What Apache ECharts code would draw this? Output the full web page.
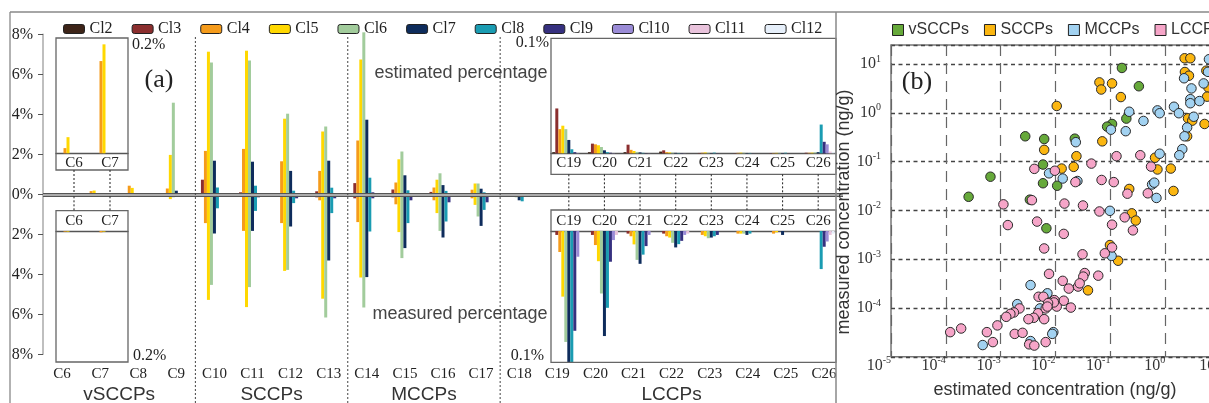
<!DOCTYPE html>
<html><head><meta charset="utf-8">
<script src="https://cdn.jsdelivr.net/npm/echarts/dist/echarts.min.js"></script>
<style>html,body{margin:0;padding:0;background:#fff}#c{width:1209px;height:403px}</style>
</head><body><div id="c"></div>
<script>
// ---------- DATA ----------
const categories = ['C6','C7','C8','C9','C10','C11','C12','C13','C14','C15','C16','C17','C18','C19','C20','C21','C22','C23','C24','C25','C26'];
const vsccpCats = ['C6','C7'];
const lccpCats = ['C19','C20','C21','C22','C23','C24','C25','C26'];
const groupNames = ['vSCCPs','SCCPs','MCCPs','LCCPs'];
const groupSpans = [['C6','C9'],['C10','C13'],['C14','C17'],['C18','C26']];
const clNames = ['Cl2','Cl3','Cl4','Cl5','Cl6','Cl7','Cl8','Cl9','Cl10','Cl11','Cl12'];

// estimated percentage (%)
const est_Cl2  = [0,0,0,0,0.02,0.02,0.02,0.03,0.05,0.03,0.02,0.01,0,0.001,0.001,0.001,0.0015,0,0,0,0];
const est_Cl3  = [0,0,0.01,0.02,0.73,0.1,0.06,0.15,0.56,0.24,0.12,0.05,0.01,0.039,0.0084,0.0075,0.0026,0.0003,0.0002,0.0002,0.0005];
const est_Cl4  = [0.009,0.16,0.43,0.29,2.17,2.27,1.65,1.17,2.69,0.59,0.34,0.23,0.03,0.021,0.0078,0.003,0.001,0.0005,0.0004,0.0003,0.0005];
const est_Cl5  = [0.028,0.189,0.32,1.97,7.13,7.18,3.78,3.14,6.74,1.75,0.73,0.54,0.04,0.024,0.007,0.002,0.0008,0.0008,0.0006,0.0004,0.0006];
const est_Cl6  = [0,0,0.02,4.58,6.59,6.69,4.03,3.39,8.1,2.14,1.05,0.54,0.04,0.021,0.0055,0.0012,0.0006,0.0005,0.0005,0.0004,0.0008];
const est_Cl7  = [0,0,0,0.18,1.68,1.63,1.17,1.68,3.73,0.95,0.46,0.28,0.02,0.0116,0.0026,0.0008,0.0004,0.0003,0.0003,0.0003,0.001];
const est_Cl8  = [0,0,0,0.05,0.34,0.43,0.18,0.33,0.83,0.2,0.17,0.1,0.01,0.0035,0.001,0.0004,0.0003,0.0006,0.0003,0.0005,0.025];
const est_Cl9  = [0,0,0,0.01,0.05,0.05,0.05,0.05,0.1,0.05,0.05,0.03,0.005,0.001,0.0005,0.0002,0.0002,0.0002,0.0001,0.0001,0.010];
const est_Cl10 = [0,0,0,0,0.01,0.01,0.01,0.01,0.02,0.01,0.01,0.01,0,0.0003,0.0002,0.0001,0.0001,0,0,0,0.0078];
const est_Cl11 = [0,0,0,0,0,0,0,0,0,0,0,0,0,0,0,0,0,0,0,0,0.0015];
const est_Cl12 = [0,0,0,0,0,0,0,0,0,0,0,0,0,0,0,0,0,0,0,0,0.001];

// measured percentage (%), magnitudes (drawn downward)
const meas_Cl2  = [0,0,0,0,0.05,0.05,0.05,0.05,0.05,0.03,0.02,0.01,0,0,0,0,0,0,0,0,0];
const meas_Cl3  = [0,0,0.02,0.03,0.1,0.1,0.1,0.15,0.2,0.15,0.1,0.05,0.01,0.003,0.003,0.002,0.002,0,0,0,0];
const meas_Cl4  = [0.001,0.002,0.14,0.1,1.44,1.83,1.44,0.3,1.39,0.5,0.3,0.2,0.05,0.016,0.0107,0.004,0.004,0.003,0.002,0.002,0];
const meas_Cl5  = [0.001,0.001,0.1,0.24,5.28,5.64,3.83,5.22,4.16,1.89,0.94,0.53,0.1,0.05,0.023,0.0102,0.005,0.004,0.002,0.001,0];
const meas_Cl6  = [0,0,0.02,0.15,4.53,4.64,3.78,6.16,5.66,3.19,1.83,1.11,0.15,0.0845,0.0476,0.022,0.009,0.0055,0.002,0,0];
const meas_Cl7  = [0,0,0,0.05,1.96,1.83,1.61,3.31,4.14,2.69,2.16,1.58,0.3,0.11,0.08,0.025,0.0125,0.005,0.003,0.003,0];
const meas_Cl8  = [0,0,0,0.02,0.7,0.83,0.44,0.94,1.86,1.44,1.36,0.78,0.35,0.11,0.0585,0.018,0.01,0.004,0.002,0,0.029];
const meas_Cl9  = [0,0,0,0,0.1,0.15,0.2,0.2,0.2,0.3,0.4,0.4,0.05,0.076,0.0234,0.0115,0.0075,0.003,0,0,0.012];
const meas_Cl10 = [0,0,0,0,0,0,0,0.05,0.05,0.05,0.1,0.1,0,0.0196,0.0069,0.003,0.003,0,0,0,0.008];
const meas_Cl11 = [0,0,0,0,0,0,0,0,0,0,0,0,0,0,0.003,0,0.002,0,0,0,0.003];
const meas_Cl12 = [0,0,0,0,0,0,0,0,0,0,0,0,0,0,0,0,0,0,0,0,0.002];

// scatter (b): [estimated, measured] ng/g
const vSCCPs = [[2.8e-3,0.33],[6.2e-3,0.29],[5.9e-3,0.087],[5.9e-3,0.036],[6.5e-4,0.049],[2.6e-4,0.019],[3.4e-3,0.0166],[6.8e-3,4.3e-3],[0.0224,0.295],[0.0107,0.032],[0.162,8.3],[0.33,3.5],[0.195,0.76],[0.107,0.59],[0.087,0.52]];
const SCCPs = [[6.2e-3,0.174],[0.0105,1.38],[0.063,4.2],[0.068,3.0],[0.107,4.0],[0.155,2.1],[0.071,0.26],[0.024,0.129],[0.0129,0.072],[0.0214,0.078],[0.65,0.12],[0.72,0.069],[1.26,0.072],[0.22,0.0275],[1.41,0.025],[2.25,13.1],[2.86,13.1],[2.28,6.85],[2.7,5.75],[5.6,7.3],[6.1,3.3],[5.8,2.14],[2.6,0.77],[3.1,0.69],[5.2,0.59],[2.5,0.33],[0.098,1.95e-3],[0.138,9.3e-4],[0.245,8.7e-3],[0.29,6.2e-3],[0.039,2.3e-4]];
const MCCPs = [[7.6e-3,0.0575],[0.0135,0.045],[0.22,1.05],[0.102,0.45],[0.19,0.42],[0.40,0.68],[0.72,1.12],[0.79,0.98],[0.0234,0.25],[0.79,0.145],[0.025,0.04],[0.575,0.034],[0.63,0.037],[0.69,0.018],[6.25,12.5],[2.2,5.1],[6.0,6.9],[3.0,3.16],[5.0,4.0],[2.86,1.9],[2.86,1.57],[4.2,1.74],[1.44,1.33],[1.77,0.98],[3.3,0.83],[2.5,0.50],[2.24,0.33],[2.04,0.18],[1.8,0.135],[0.098,9.8e-3],[0.105,1.17e-3],[3.5e-3,2.95e-4],[7.1e-3,2.0e-4],[2.0e-3,1.2e-4],[5.2e-3,9.8e-5],[4.7e-4,1.74e-5],[3.5e-3,2.1e-5],[9.1e-3,3.2e-5],[8.7e-3,2.95e-5]];
const LCCPs = [[4.1e-3,0.071],[9.7e-3,0.065],[0.045,0.091],[0.129,0.129],[0.35,0.135],[0.55,0.079],[0.023,0.038],[0.069,0.042],[0.115,0.038],[0.204,0.022],[0.48,0.0224],[3.7e-3,0.0162],[1.12e-3,0.0133],[1.35e-3,5.0e-3],[4.6e-3,5.9e-3],[6.2e-3,1.66e-3],[7.6e-3,5.0e-4],[4.9e-3,1.7e-4],[6.0e-3,1.7e-4],[2.2e-3,9.8e-5],[1.74e-3,8.1e-5],[1.5e-3,7.6e-5],[1.26e-3,6.6e-5],[4.8e-3,7.8e-5],[4.0e-3,6.3e-5],[3.2e-3,5.9e-5],[6.2e-3,5.9e-5],[6.6e-3,9.8e-5],[8.7e-4,4.4e-5],[5.6e-4,3.2e-5],[1.9e-4,3.8e-5],[1.2e-4,3.2e-5],[1.8e-3,2.95e-5],[2.5e-3,3.1e-5],[7.2e-4,2.0e-5],[3.3e-3,1.8e-5],[4.1e-3,1.7e-5],[6.6e-3,2.0e-5],[0.0145,0.0138],[0.0316,0.0126],[0.063,9.5e-3],[0.182,7.2e-3],[0.107,5.1e-3],[0.257,3.9e-3],[0.0141,3.3e-3],[0.031,1.26e-3],[0.079,1.32e-3],[0.107,1.74e-3],[0.034,5.2e-4],[0.032,4.4e-4],[0.060,4.6e-4],[0.0135,3.6e-4],[0.0174,2.5e-4],[0.0257,2.75e-4],[0.0275,3.2e-4],[0.0141,1.41e-4],[0.019,1.02e-4],[9.5e-3,1.45e-4],[0.0105,1.07e-4],[9.3e-3,1.3e-4],[7.3e-3,1.26e-4],[7.1e-3,1.07e-4]];

// ---------- STYLE / LAYOUT ----------
const clColors = ['#3d2418','#8b2e2e','#f59b1b','#ffd800','#a2cc9c','#0e2c5c','#1a9cb2','#36307f','#9a8bd6','#e9c3dc','#e6effa'];
const grpColors = ['#66a93a','#fbb610','#a2d2f1','#f6a5c8'];
const SERIF = 'Liberation Serif', SANS = 'Liberation Sans';
const G_MAIN = {left:43, top:34.3, width:800, height:320};
const G_TL = {left:56, top:38, width:72, height:115.3}, TL_STRIP = 16.7;
const G_BL = {left:56, top:231, width:72, height:131}, BL_STRIP = 20.3;
const G_TR = {left:551, top:38.3, width:285, height:115}, TR_STRIP = 21;
const G_BR = {left:551, top:231, width:285, height:131.3}, BR_STRIP = 21;
const G_SC = {left:891, top:45, width:384, height:311.8};

const estRows = [est_Cl2,est_Cl3,est_Cl4,est_Cl5,est_Cl6,est_Cl7,est_Cl8,est_Cl9,est_Cl10,est_Cl11,est_Cl12];
const measRows = [meas_Cl2,meas_Cl3,meas_Cl4,meas_Cl5,meas_Cl6,meas_Cl7,meas_Cl8,meas_Cl9,meas_Cl10,meas_Cl11,meas_Cl12];
const iVS = vsccpCats.map(c => categories.indexOf(c));
const iLC = lccpCats.map(c => categories.indexOf(c));

const chart = echarts.init(document.getElementById('c'), null, {renderer:'canvas'});

const series = [];
clNames.forEach((n, i) => {
  const base = {name:n, type:'bar', barWidth:3, barGap:'0%', itemStyle:{color:clColors[i]}, emphasis:{disabled:true}};
  const m1 = Object.assign({}, base, {xAxisIndex:0, yAxisIndex:0, stack:'s'+i, clip:false, data:estRows[i]});
  if (i === 0) {
    m1.markLine = {silent:true, symbol:'none', label:{show:false}, animation:false,
      data:[{yAxis:0, lineStyle:{color:'#555', width:4, type:'solid'}}, {yAxis:0, lineStyle:{color:'#c8c8c8', width:1.6, type:'solid'}}]};
  }
  series.push(m1);
  series.push(Object.assign({}, base, {xAxisIndex:0, yAxisIndex:0, stack:'s'+i, clip:false, data:measRows[i].map(v => -v)}));
  series.push(Object.assign({}, base, {xAxisIndex:1, yAxisIndex:1, data:iVS.map(k => estRows[i][k])}));
  series.push(Object.assign({}, base, {xAxisIndex:2, yAxisIndex:2, data:iVS.map(k => measRows[i][k])}));
  series.push(Object.assign({}, base, {xAxisIndex:3, yAxisIndex:3, data:iLC.map(k => estRows[i][k])}));
  series.push(Object.assign({}, base, {xAxisIndex:4, yAxisIndex:4, data:iLC.map(k => measRows[i][k])}));
});
[vSCCPs, SCCPs, MCCPs, LCCPs].forEach((d, i) => {
  series.push({name:groupNames[i], type:'scatter', xAxisIndex:5, yAxisIndex:5, symbol:'circle', symbolSize:9.5,
    itemStyle:{color:grpColors[i], borderColor:'#2a2a2a', borderWidth:1, opacity:1}, emphasis:{disabled:true}, data:d, z:3});
});

function pow10Label(v) {
  const l = Math.log10(v), e = Math.round(l);
  if (Math.abs(l - e) > 1e-6) return '';
  return '{b|10}{s|' + e + '}';
}
const powRich = {b:{fontFamily:SERIF, fontSize:16, color:'#333', lineHeight:20}, s:{fontFamily:SERIF, fontSize:10, color:'#333', verticalAlign:'top', lineHeight:12}};

const catLabel = {fontFamily:SERIF, fontSize:15, color:'#222'};
const insetX = (idx, data, pos) => ({gridIndex:idx, type:'category', data:data, position:pos,
  axisLine:{show:true, onZero:false, lineStyle:{color:'#555', width:1.3}}, axisTick:{show:false},
  axisLabel:Object.assign({margin:2, interval:0}, catLabel), splitLine:{show:false}});
const insetY = (idx, max, inv) => ({gridIndex:idx, type:'value', min:0, max:max, inverse:inv, show:false, splitLine:{show:false}});

const option = {
  animation:false,
  backgroundColor:'#fff',
  grid:[G_MAIN, G_TL, G_BL, G_TR, G_BR, Object.assign({show:true, borderColor:'#777', borderWidth:1.5}, G_SC)]
    .map(g => Object.assign({containLabel:false, outerBoundsMode:'none'}, g)),
  legend:[
    {data:clNames, left:58, top:16, itemWidth:21, itemHeight:9, itemGap:19, selectedMode:false,
     itemStyle:{borderColor:'#222', borderWidth:1}, textStyle:{fontFamily:SERIF, fontSize:16, color:'#222'}},
    {data:groupNames, left:887, top:17, width:420, icon:'rect', itemWidth:11, itemHeight:11, itemGap:15, selectedMode:false,
     itemStyle:{borderColor:'#222', borderWidth:1}, textStyle:{fontFamily:SANS, fontSize:16, color:'#333'}}
  ],
  xAxis:[
    {gridIndex:0, type:'category', data:categories, position:'bottom', axisLine:{show:false}, axisTick:{show:false},
     axisLabel:Object.assign({margin:12, interval:0}, catLabel), splitLine:{show:false}},
    insetX(1, vsccpCats, 'bottom'),
    insetX(2, vsccpCats, 'top'),
    insetX(3, lccpCats, 'bottom'),
    insetX(4, lccpCats, 'top'),
    {gridIndex:5, type:'log', logBase:10, min:1e-5, max:100, position:'bottom',
     axisLine:{show:false}, axisTick:{show:false},
     axisLabel:{formatter:pow10Label, rich:powRich, align:'right', margin:-1},
     splitLine:{show:true, lineStyle:{color:'#666', width:1.2, type:[11,7]}}, minorTick:{show:false}}
  ],
  yAxis:[
    {gridIndex:0, type:'value', min:-8, max:8, interval:2,
     axisLine:{show:true, lineStyle:{color:'#aaa', width:1.5}}, axisTick:{show:true, length:5, lineStyle:{color:'#555'}},
     axisLabel:{margin:10, fontFamily:SERIF, fontSize:16, color:'#222', formatter:v => Math.abs(v) + '%'},
     splitLine:{show:false}},
    insetY(1, 0.2, false),
    insetY(2, 0.2, true),
    insetY(3, 0.1, false),
    insetY(4, 0.1, true),
    {gridIndex:5, type:'log', logBase:10, min:1e-5, max:24.5,
     axisLine:{show:false}, axisTick:{show:false},
     axisLabel:{formatter:pow10Label, rich:powRich, margin:10, showMinLabel:false},
     splitLine:{show:true, lineStyle:{color:'#444', width:1.4, type:[4,3.5]}}}
  ],
  series:series
};
chart.setOption(option);

// ---------- decorations positioned through the axes ----------
const xPix = (ai, idx) => chart.convertToPixel({xAxisIndex:ai}, idx);
const yZero = chart.convertToPixel({yAxisIndex:0}, 0);
const g = [];
const line = (x1,y1,x2,y2,stroke,w,dash,z) => g.push({type:'line', silent:true, z:z||10, shape:{x1,y1,x2,y2}, style:{stroke, lineWidth:w, lineDash:dash||null}});
const text = (t,x,y,font,size,fill,align,extra) => g.push(Object.assign({type:'text', silent:true, z:20, x, y,
  style:{text:t, fontFamily:font, fontSize:size, fill:fill, align:align||'center', verticalAlign:'middle'}}, extra||{}));
const rect = (x,y,w,h) => g.push({type:'rect', silent:true, z:9, shape:{x,y,width:w,height:h}, style:{fill:null, stroke:'#666', lineWidth:1.3}});

// frame
line(10,12,10,403,'#999',1.5);
line(10,12,1209,12,'#888',1.5);
line(836,12,836,403,'#888',1.5);

// group separators (between last cat of a group and first of next)
for (let k = 1; k < groupSpans.length; k++) {
  const a = categories.indexOf(groupSpans[k-1][1]), b = categories.indexOf(groupSpans[k][0]);
  const x = (xPix(0,a) + xPix(0,b)) / 2;
  line(x, 37, x, 403, '#444', 1, [2,2]);
}
// group labels
groupSpans.forEach((s, k) => {
  const x = (xPix(0, categories.indexOf(s[0])) + xPix(0, categories.indexOf(s[1]))) / 2;
  text(groupNames[k], x, 395, SANS, 19, '#333');
});

// inset boxes
rect(G_TL.left, G_TL.top, G_TL.width, G_TL.height + TL_STRIP);
rect(G_BL.left, G_BL.top - BL_STRIP, G_BL.width, G_BL.height + BL_STRIP);
rect(G_TR.left, G_TR.top, G_TR.width, G_TR.height + TR_STRIP);
rect(G_BR.left, G_BR.top - BR_STRIP, G_BR.width, G_BR.height + BR_STRIP);

// connectors from insets to the zero line
vsccpCats.forEach((c, k) => {
  const x = xPix(1, k);
  line(x, G_TL.top + G_TL.height + TL_STRIP, x, yZero - 2, '#333', 1.1, [2,2]);
  line(x, yZero + 2, x, G_BL.top - BL_STRIP, '#333', 1.1, [2,2]);
});
lccpCats.forEach((c, k) => {
  const x = xPix(3, k);
  line(x, G_TR.top + G_TR.height + TR_STRIP, x, yZero - 2, '#333', 1.1, [2,2]);
  line(x, yZero + 2, x, G_BR.top - BR_STRIP, '#333', 1.1, [2,2]);
});

// texts
text('(a)', 159, 80, SERIF, 26, '#222');
text('estimated percentage', 461, 73, SANS, 18, '#444');
text('measured percentage', 460, 314, SANS, 18, '#444');
text('0.2%', 132, 45, SERIF, 16, '#222', 'left');
text('0.2%', 133, 356, SERIF, 16, '#222', 'left');
text('0.1%', 549, 43, SERIF, 16, '#222', 'right');
text('0.1%', 544, 356, SERIF, 16, '#222', 'right');
text('(b)', 917, 82, SERIF, 26, '#222');
text('measured concentration (ng/g)', 844, 212, SANS, 18, '#333', 'center', {rotation:Math.PI/2});
text('estimated concentration (ng/g)', 1055, 390, SANS, 18, '#333');

chart.setOption({graphic:g});
</script></body></html>
